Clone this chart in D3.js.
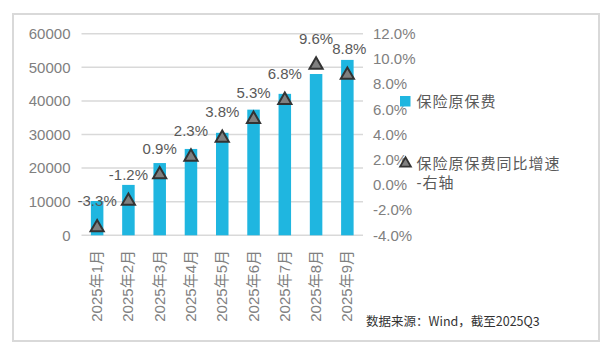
<!DOCTYPE html>
<html><head><meta charset="utf-8">
<script src="https://cdn.jsdelivr.net/npm/d3@7"></script>
<style>
html,body{margin:0;padding:0;background:#fff;}
svg{display:block;font-family:Arial,"Liberation Sans","Noto Sans CJK SC",sans-serif;}
</style></head>
<body>
<svg id="c" width="613" height="355"></svg>
<script>
const categories = ["2025年1月","2025年2月","2025年3月","2025年4月","2025年5月","2025年6月","2025年7月","2025年8月","2025年9月"];
const premium = [10200, 15000, 21500, 25700, 30500, 37400, 42100, 48000, 52200];
const growth = [-3.3, -1.2, 0.9, 2.3, 3.8, 5.3, 6.8, 9.6, 8.8];
const leftTicks = [0, 10000, 20000, 30000, 40000, 50000, 60000];
const rightTicks = [-4, -2, 0, 2, 4, 6, 8, 10, 12];
const legendLabels = ["保险原保费", "保险原保费同比增速", "-右轴"];
const sourceText = "数据来源：Wind，截至2025Q3";

const svg = d3.select("#c");
const W = 613, H = 355;
const plot = {left: 81.5, right: 363, top: 33.7, bottom: 235.3};
const blue = "#1fb6e0";

svg.append("rect").attr("x",13).attr("y",14).attr("width",586).attr("height",327)
  .attr("fill","#fff").attr("stroke","#d9d9d9").attr("stroke-width",2);

const x = d3.scaleBand().domain(categories).range([plot.left, plot.right]).paddingInner(0.6).paddingOuter(0.3);
const yL = d3.scaleLinear().domain([0, 60000]).range([plot.bottom, plot.top]);
const yR = d3.scaleLinear().domain([-4, 12]).range([plot.bottom, plot.top]);
const xc = d => x(d) + x.bandwidth()/2;

// gridlines
svg.append("g").selectAll("line").data(leftTicks).join("line")
  .attr("x1", plot.left).attr("x2", plot.right)
  .attr("y1", d=>yL(d)).attr("y2", d=>yL(d))
  .attr("stroke","#d9d9d9").attr("stroke-width",1.5);

// left axis
const axL = svg.append("g").attr("transform",`translate(${plot.left},0)`)
  .call(d3.axisLeft(yL).tickValues(leftTicks).tickSize(0).tickPadding(11).tickFormat(d3.format("d")));
axL.select(".domain").remove();
axL.selectAll("text").attr("fill","#808080").style("font-size","15px").style("font-family","Arial,'Liberation Sans',sans-serif");

// right axis
const axR = svg.append("g").attr("transform",`translate(${plot.right},0)`)
  .call(d3.axisRight(yR).tickValues(rightTicks).tickSize(0).tickPadding(10).tickFormat(d => d.toFixed(1)+"%"));
axR.select(".domain").remove();
axR.selectAll("text").attr("fill","#808080").style("font-size","15px").style("font-family","Arial,'Liberation Sans',sans-serif");

// bars
svg.append("g").selectAll("rect").data(premium).join("rect")
  .attr("x",(d,i)=>x(categories[i])).attr("width",x.bandwidth())
  .attr("y",d=>yL(d)).attr("height",d=>yL(0)-yL(d))
  .attr("fill",blue);

// triangles
const tri = d3.symbol().type(d3.symbolTriangle).size(75);
svg.append("g").selectAll("path").data(growth).join("path")
  .attr("d", tri)
  .attr("transform",(d,i)=>`translate(${xc(categories[i])},${yR(d)+1})`)
  .attr("fill","#808080").attr("stroke","#333").attr("stroke-width",2).attr("stroke-linejoin","miter");

// data labels
svg.append("g").selectAll("text").data(growth).join("text")
  .attr("x",(d,i)=>xc(categories[i]) + (i===8 ? 2 : 0))
  .attr("y",(d,i)=>yR(d) - 20 - (i===8 ? 0 : 0))
  .attr("text-anchor","middle")
  .attr("fill","#595959").style("font-size","15px")
  .text(d=>d.toFixed(1)+"%");

// x labels rotated
svg.append("g").selectAll("text").data(categories).join("text")
  .attr("transform",d=>`translate(${xc(d)+5},250) rotate(-90)`)
  .attr("text-anchor","end")
  .attr("fill","#808080").style("font-size","15px")
  .text(d=>d);

// legend
const lg = svg.append("g");
lg.append("rect").attr("x",400).attr("y",96).attr("width",10.5).attr("height",10.5).attr("fill",blue);
lg.append("text").attr("x",416.5).attr("y",106.5).attr("fill","#595959").style("font-size","15px")
  .style("letter-spacing","1px").text(legendLabels[0]);
lg.append("path").attr("d",d3.symbol().type(d3.symbolTriangle).size(50))
  .attr("transform","translate(405.5,163.5)").attr("fill","#808080").attr("stroke","#333").attr("stroke-width",1.8);
lg.append("text").attr("x",416.5).attr("y",168.5).attr("fill","#595959").style("font-size","15px")
  .style("letter-spacing","1px").text(legendLabels[1]);
lg.append("text").attr("x",416.5).attr("y",187.5).attr("fill","#595959").style("font-size","15px")
  .style("letter-spacing","1px").text(legendLabels[2]);

// source
svg.append("text").attr("x",366).attr("y",326).attr("fill","#333")
  .style("font-size","12.5px").style("font-family","'Noto Sans CJK SC',sans-serif")
  .text(sourceText);
</script>
</body></html>
